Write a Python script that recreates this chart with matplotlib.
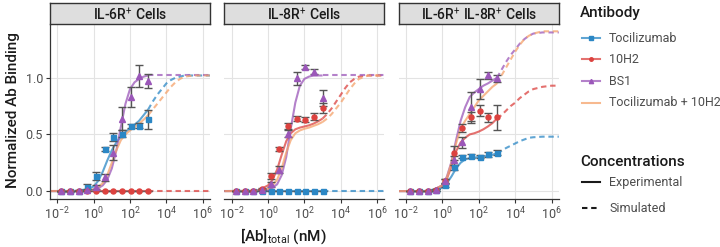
import matplotlib
matplotlib.use("Agg")
import matplotlib.pyplot as plt
import numpy as np
from matplotlib.lines import Line2D

plt.rcParams['font.family'] = ['Roboto', 'DejaVu Sans']
plt.rcParams['mathtext.fontset'] = 'custom'
plt.rcParams['mathtext.rm'] = 'Roboto'
plt.rcParams['mathtext.it'] = 'Roboto:italic'
plt.rcParams['mathtext.bf'] = 'Roboto:bold'

# ---------------- data ----------------
panels = ["IL-6R$^{+}$ Cells", "IL-8R$^{+}$ Cells", "IL-6R$^{+}$ IL-8R$^{+}$ Cells"]
antibodies = ["Tocilizumab", "10H2", "BS1", "Tocilizumab + 10H2"]
conc_nM = [0.0169, 0.0508, 0.152, 0.457, 1.37, 4.12, 12.3, 37.0, 111.0, 333.0, 1000.0]

# measured points (mean, sd) per panel
toc_p1 = [0, 0, 0.005, 0.04, 0.13, 0.37, 0.48, 0.505, 0.575, 0.578, 0.632]
toc_p1_sd = [0.004, 0.004, 0.004, 0.02, 0.035, 0.02, 0.035, 0.03, 0.015, 0.02, 0.085]
h2_p1 = [0, 0, 0, 0, 0, 0, 0, 0, 0, 0, 0]
h2_p1_sd = [0.003, 0.003, 0.003, 0.003, 0.003, 0.003, 0.003, 0.003, 0.003, 0.003, 0.003]
bs1_p1 = [0, 0, 0.003, 0.01, 0.035, 0.12, 0.34, 0.64, 0.83, 1.015, 0.97]
bs1_p1_sd = [0.003, 0.003, 0.003, 0.01, 0.02, 0.03, 0.07, 0.1, 0.09, 0.1, 0.06]

toc_p2 = [0, 0, 0, 0, 0, 0, 0, 0, 0, 0, 0]
toc_p2_sd = [0.003, 0.003, 0.003, 0.003, 0.003, 0.003, 0.003, 0.003, 0.003, 0.003, 0.003]
h2_p2 = [0, 0, 0, 0.02, 0.135, 0.37, 0.575, 0.64, 0.63, 0.655, 0.73]
h2_p2_sd = [0.003, 0.003, 0.003, 0.01, 0.025, 0.02, 0.03, 0.02, 0.02, 0.03, 0.045]
bs1_p2 = [0, 0, 0, 0.01, 0.06, 0.19, 0.505, 0.995, 1.095, 1.055, 0.82]
bs1_p2_sd = [0.003, 0.003, 0.003, 0.01, 0.02, 0.03, 0.03, 0.055, 0.02, 0.02, 0.07]

toc_p3 = [0, 0, 0, 0.01, 0.055, 0.21, 0.305, 0.31, 0.305, 0.325, 0.34]
toc_p3_sd = [0.003, 0.003, 0.003, 0.01, 0.015, 0.02, 0.015, 0.015, 0.01, 0.02, 0.02]
h2_p3 = [0, 0, 0, 0.01, 0.085, 0.335, 0.56, 0.65, 0.71, 0.65, 0.65]
h2_p3_sd = [0.003, 0.003, 0.003, 0.01, 0.02, 0.06, 0.035, 0.05, 0.05, 0.04, 0.11]
bs1_p3 = [0, 0, 0, 0.01, 0.09, 0.27, 0.43, 0.745, 0.9, 1.02, 0.995]
bs1_p3_sd = [0.003, 0.003, 0.003, 0.01, 0.02, 0.04, 0.05, 0.13, 0.09, 0.03, 0.03]

# model curves: log10 concentration grid, experimental range and simulated range
logx_exp = [-2.4, -1.0, -0.5, 0.0, 0.25, 0.5, 0.75, 1.0, 1.25, 1.5, 1.75, 2.0, 2.25, 2.5, 2.75, 3.0]
logx_sim = [3.0, 3.25, 3.5, 3.75, 4.0, 4.25, 4.5, 4.75, 5.0, 5.5, 6.0, 6.4]

toc_p1_exp = [0, 0, 0.005, 0.04, 0.09, 0.17, 0.27, 0.36, 0.43, 0.48, 0.52, 0.555, 0.585, 0.62, 0.67, 0.72]
toc_p1_sim = [0.72, 0.79, 0.85, 0.90, 0.95, 0.98, 1.0, 1.01, 1.02, 1.02, 1.02, 1.02]
h2_p1_exp = [0, 0, 0, 0, 0, 0, 0, 0, 0, 0, 0, 0, 0, 0, 0, 0]
h2_p1_sim = [0, 0, 0, 0, 0, 0, 0, 0, 0, 0, 0, 0]
bs1_p1_exp = [0, 0, 0.002, 0.01, 0.025, 0.05, 0.1, 0.2, 0.36, 0.57, 0.77, 0.9, 0.96, 0.99, 1.01, 1.02]
bs1_p1_sim = [1.02, 1.02, 1.02, 1.02, 1.02, 1.02, 1.02, 1.02, 1.02, 1.02, 1.02, 1.02]
combo_p1_exp = [0, 0, 0.002, 0.015, 0.035, 0.07, 0.14, 0.25, 0.36, 0.45, 0.5, 0.535, 0.565, 0.595, 0.63, 0.67]
combo_p1_sim = [0.67, 0.72, 0.77, 0.82, 0.87, 0.92, 0.96, 0.99, 1.01, 1.02, 1.02, 1.02]

toc_p2_exp = [0, 0, 0, 0, 0, 0, 0, 0, 0, 0, 0, 0, 0, 0, 0, 0]
toc_p2_sim = [0, 0, 0, 0, 0, 0, 0, 0, 0, 0, 0, 0]
h2_p2_exp = [0, 0.002, 0.01, 0.05, 0.1, 0.19, 0.32, 0.44, 0.51, 0.545, 0.56, 0.57, 0.58, 0.595, 0.615, 0.64]
h2_p2_sim = [0.64, 0.68, 0.73, 0.79, 0.85, 0.91, 0.96, 0.99, 1.01, 1.02, 1.02, 1.02]
bs1_p2_exp = [0, 0, 0.002, 0.01, 0.03, 0.06, 0.14, 0.3, 0.55, 0.78, 0.93, 0.99, 1.01, 1.02, 1.02, 1.02]
bs1_p2_sim = [1.02, 1.02, 1.02, 1.02, 1.02, 1.02, 1.02, 1.02, 1.02, 1.02, 1.02, 1.02]
combo_p2_exp = [0, 0, 0.003, 0.02, 0.05, 0.1, 0.2, 0.34, 0.45, 0.51, 0.535, 0.55, 0.56, 0.575, 0.59, 0.61]
combo_p2_sim = [0.61, 0.64, 0.68, 0.73, 0.78, 0.84, 0.9, 0.95, 0.99, 1.02, 1.02, 1.02]

toc_p3_exp = [0, 0, 0.005, 0.03, 0.07, 0.13, 0.2, 0.25, 0.28, 0.29, 0.295, 0.3, 0.305, 0.31, 0.32, 0.335]
toc_p3_sim = [0.335, 0.355, 0.38, 0.40, 0.42, 0.44, 0.455, 0.47, 0.475, 0.48, 0.48, 0.48]
h2_p3_exp = [0, 0, 0.01, 0.05, 0.11, 0.22, 0.35, 0.43, 0.47, 0.5, 0.51, 0.525, 0.545, 0.57, 0.6, 0.64]
h2_p3_sim = [0.64, 0.67, 0.71, 0.75, 0.78, 0.82, 0.85, 0.88, 0.9, 0.92, 0.93, 0.93]
bs1_p3_exp = [0, 0, 0.01, 0.05, 0.13, 0.26, 0.45, 0.62, 0.74, 0.83, 0.87, 0.9, 0.93, 0.95, 0.975, 1.0]
bs1_p3_sim = [1.0, 1.07, 1.14, 1.2, 1.25, 1.3, 1.34, 1.37, 1.39, 1.40, 1.40, 1.40]
combo_p3_exp = [0, 0, 0.01, 0.05, 0.12, 0.25, 0.42, 0.55, 0.62, 0.68, 0.74, 0.8, 0.84, 0.88, 0.92, 0.95]
combo_p3_sim = [0.95, 1.02, 1.09, 1.16, 1.23, 1.29, 1.34, 1.37, 1.39, 1.41, 1.41, 1.41]

points = [
    [(toc_p1, toc_p1_sd), (h2_p1, h2_p1_sd), (bs1_p1, bs1_p1_sd)],
    [(toc_p2, toc_p2_sd), (h2_p2, h2_p2_sd), (bs1_p2, bs1_p2_sd)],
    [(toc_p3, toc_p3_sd), (h2_p3, h2_p3_sd), (bs1_p3, bs1_p3_sd)],
]
curves = [
    [(toc_p1_exp, toc_p1_sim), (h2_p1_exp, h2_p1_sim), (bs1_p1_exp, bs1_p1_sim), (combo_p1_exp, combo_p1_sim)],
    [(toc_p2_exp, toc_p2_sim), (h2_p2_exp, h2_p2_sim), (bs1_p2_exp, bs1_p2_sim), (combo_p2_exp, combo_p2_sim)],
    [(toc_p3_exp, toc_p3_sim), (h2_p3_exp, h2_p3_sim), (bs1_p3_exp, bs1_p3_sim), (combo_p3_exp, combo_p3_sim)],
]

# ---------------- style ----------------
colors = ['#2b87c5', '#dc423f', '#9b57b9', '#f5a26a']
markers = ['s', 'o', '^', None]
msizes = [3.6, 3.6, 4.4, 0]
line_alpha = 0.75
dash = (0, (2.6, 1.8))
TW = 'medium'

W, H = 720, 247
fig = plt.figure(figsize=(7.2, 2.47), dpi=100)
fig.patch.set_facecolor('white')

panel_left = [50, 224.4, 398.8]
pw = 160
plot_top, plot_bot = 24.5, 199
x_exp = 10 ** np.array(logx_exp)
x_sim = 10 ** np.array(logx_sim)

for i in range(3):
    l = panel_left[i]
    ax = fig.add_axes([l / W, (H - plot_bot) / H, pw / W, (plot_bot - plot_top) / H])
    ax.set_facecolor('white')
    ax.set_xscale('log')
    ax.set_xlim(10 ** -2.4, 10 ** 6.4)
    ax.set_ylim(-0.07, 1.47)
    ax.set_xticks([1e-2, 1e0, 1e2, 1e4, 1e6])
    ax.set_xticklabels(['$10^{-2}$', '$10^{0}$', '$10^{2}$', '$10^{4}$', '$10^{6}$'])
    ax.xaxis.set_minor_locator(matplotlib.ticker.NullLocator())
    ax.set_yticks([0, 0.5, 1.0])
    ax.set_yticklabels(['0.0', '0.5', '1.0'])
    ax.grid(True, color='#e3e3e3', lw=0.8)
    ax.set_axisbelow(True)
    for s in ['top', 'right']:
        ax.spines[s].set_visible(False)
    ax.spines['bottom'].set_color('#333333')
    ax.spines['bottom'].set_linewidth(0.9)
    if i == 0:
        ax.spines['left'].set_color('#333333')
        ax.spines['left'].set_linewidth(0.9)
        ax.tick_params(axis='y', length=3, color='#333333', labelsize=9,
                       labelcolor='#4d4d4d', pad=2)
    else:
        ax.spines['left'].set_visible(False)
        ax.tick_params(axis='y', length=0, labelleft=False)
    ax.tick_params(axis='x', length=3, color='#333333', labelsize=9,
                   labelcolor='#4d4d4d', pad=2)

    # curves
    for k in range(4):
        ye, ys = curves[i][k]
        ax.plot(x_exp, ye, color=colors[k], lw=1.5, alpha=line_alpha, zorder=2,
                solid_capstyle='butt')
        ax.plot(x_sim, ys, color=colors[k], lw=1.5, alpha=line_alpha, ls=dash, zorder=2)
    # points
    for k in range(3):
        v, sd = points[i][k]
        ax.errorbar(conc_nM, v, yerr=sd, fmt='none', ecolor='#555555',
                    elinewidth=1.0, capsize=3.2, capthick=1.0, zorder=3)
    for k in range(3):
        v, sd = points[i][k]
        ax.plot(conc_nM, v, ls='none', marker=markers[k], ms=msizes[k],
                color=colors[k], mec=colors[k], zorder=4)

    # strip
    sax = fig.add_axes([l / W, (H - 24) / H, pw / W, 21 / H])
    sax.set_xticks([]); sax.set_yticks([])
    sax.set_facecolor('#dedede')
    for s in sax.spines.values():
        s.set_color('#333333'); s.set_linewidth(1.0)
    sax.text(0.5, 0.45, panels[i], ha='center', va='center', fontsize=10,
             color='#1a1a1a', fontweight=TW, transform=sax.transAxes)

fig.text(13 / W, (H - 110) / H, 'Normalized Ab Binding', rotation=90, ha='center',
         va='center', fontsize=11, color='#1a1a1a', fontweight=TW)
fig.text(283 / W, (H - 236) / H, r'[Ab]$_{\mathrm{total}}$ (nM)', ha='center',
         va='center', fontsize=11, color='#1a1a1a', fontweight=TW)

# legend drawn in pixel coordinates
lax = fig.add_axes([0, 0, 1, 1])
lax.set_xlim(0, W); lax.set_ylim(H, 0); lax.axis('off')
lax.text(580, 13, 'Antibody', fontsize=11, va='center', ha='left', color='#1a1a1a',
         fontweight=TW)
ys_leg = [38, 59.5, 81, 102.5]
for k in range(4):
    lax.plot([582, 600], [ys_leg[k], ys_leg[k]], color=colors[k], lw=1.5, alpha=line_alpha)
    if markers[k]:
        lax.plot([591], [ys_leg[k]], marker=markers[k], ms=msizes[k] * 0.7, color=colors[k])
    lax.text(609, ys_leg[k], antibodies[k], fontsize=9, va='center', ha='left', color='#4d4d4d')
lax.text(580, 162, 'Concentrations', fontsize=11, va='center', ha='left', color='#1a1a1a',
         fontweight=TW)
lax.plot([582, 600], [182, 182], color='#1a1a1a', lw=1.5)
lax.text(609, 182, 'Experimental', fontsize=9, va='center', ha='left', color='#4d4d4d')
lax.plot([582, 600], [208, 208], color='#1a1a1a', lw=1.5, ls=dash)
lax.text(609, 208, 'Simulated', fontsize=9, va='center', ha='left', color='#4d4d4d')

fig.savefig('out.png', dpi=100, facecolor='white')
